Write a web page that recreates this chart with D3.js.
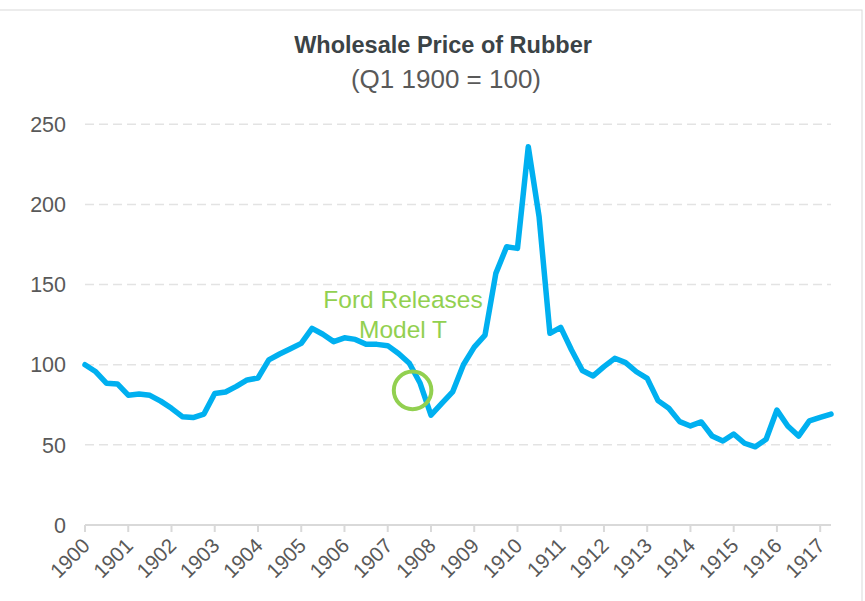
<!DOCTYPE html>
<html><head><meta charset="utf-8">
<script src="https://cdn.jsdelivr.net/npm/d3@7"></script>
<style>html,body{margin:0;padding:0;background:#fff;}svg{display:block;}</style>
</head><body>
<svg id="chart" width="865" height="601"></svg>
<script>
const title = "Wholesale Price of Rubber";
const subtitle = "(Q1 1900 = 100)";
const yearLabels = ["1900","1901","1902","1903","1904","1905","1906","1907","1908","1909","1910","1911","1912","1913","1914","1915","1916","1917"];
const yTicks = [0, 50, 100, 150, 200, 250];
// quarterly index, Q1 1900 .. Q2 1917
const priceIndex = [
  100, 95.6, 88.4, 88, 81, 81.7, 80.9, 77.3, 72.8, 67.6, 67, 69.2,
  82, 83, 86.5, 90.5, 91.7, 103, 106.7, 110, 113.3, 122.7, 119, 114.4,
  116.8, 115.8, 112.7, 112.7, 111.9, 107, 100.9, 88.4, 68.6, 75.9, 83, 100,
  111, 118.5, 157, 173.6, 172.6, 236, 192.3, 119.6, 123.3, 109.2, 96.4, 93,
  98.8, 104, 101.3, 95.6, 91.5, 77.6, 72.8, 64.5, 61.8, 64.3, 55.5, 52.4,
  56.8, 51, 48.8, 53.5, 71.7, 61.8, 55.5, 65, 67.2, 69.2
];
const annotationText = ["Ford Releases", "Model T"];
const annotationIndex = 30.3; // quarter position of circle
const annotationValue = 84;

const svg = d3.select("#chart");
svg.append("rect").attr("x", -1).attr("y", 10).attr("width", 863).attr("height", 600)
  .attr("fill", "none").attr("stroke", "#d9d9d9").attr("stroke-width", 1);

const x = d3.scaleLinear().domain([0, priceIndex.length - 1]).range([85, 831]);
const y = d3.scaleLinear().domain([0, 250]).range([525, 124.3]);

// gridlines
svg.append("g").selectAll("line").data(yTicks.filter(d => d > 0)).join("line")
  .attr("x1", x(0)).attr("x2", x(priceIndex.length - 1))
  .attr("y1", d => y(d)).attr("y2", d => y(d))
  .attr("stroke", "#e3e3e3").attr("stroke-width", 1.5).attr("stroke-dasharray", "9,5");

// y labels
svg.append("g").selectAll("text").data(yTicks).join("text")
  .attr("x", 66).attr("y", d => y(d)).attr("dy", "0.36em")
  .attr("text-anchor", "end").attr("fill", "#595959")
  .attr("font-family", "Liberation Sans, Arial, sans-serif").attr("font-size", 21.5)
  .text(d => d);

// x axis
svg.append("line").attr("x1", x(0)).attr("x2", x(priceIndex.length - 1))
  .attr("y1", y(0)).attr("y2", y(0)).attr("stroke", "#d9d9d9").attr("stroke-width", 2);
const xt = svg.append("g").selectAll("g").data(yearLabels).join("g")
  .attr("transform", (d, i) => `translate(${x(i * 4)},${y(0)})`);
xt.append("line").attr("y1", 0).attr("y2", 7).attr("stroke", "#d9d9d9").attr("stroke-width", 2);
xt.append("text").attr("transform", "translate(6,22) rotate(-45)")
  .attr("text-anchor", "end").attr("fill", "#595959")
  .attr("font-family", "Liberation Sans, Arial, sans-serif").attr("font-size", 20.5)
  .text(d => d);

// line
svg.append("path").datum(priceIndex)
  .attr("d", d3.line().x((d, i) => x(i)).y(d => y(d)))
  .attr("fill", "none").attr("stroke", "#00B0F0").attr("stroke-width", 5.5)
  .attr("stroke-linejoin", "round").attr("stroke-linecap", "round");

// annotation
svg.append("circle").attr("cx", x(annotationIndex)).attr("cy", y(annotationValue)).attr("r", 18.8)
  .attr("fill", "none").attr("stroke", "#92D050").attr("stroke-width", 4);
svg.append("g").selectAll("text").data(annotationText).join("text")
  .attr("x", 403).attr("y", (d, i) => 308 + i * 30)
  .attr("text-anchor", "middle").attr("fill", "#92D050")
  .attr("font-family", "Liberation Sans, Arial, sans-serif").attr("font-size", 24.5)
  .text(d => d);

// titles
svg.append("text").attr("x", 443).attr("y", 53).attr("text-anchor", "middle")
  .attr("fill", "#3b4346").attr("font-family", "Liberation Sans, Arial, sans-serif")
  .attr("font-size", 23.5).attr("font-weight", "bold").text(title);
svg.append("text").attr("x", 446).attr("y", 88).attr("text-anchor", "middle")
  .attr("fill", "#595959").attr("font-family", "Liberation Sans, Arial, sans-serif")
  .attr("font-size", 26).text(subtitle);
</script>
</body></html>
